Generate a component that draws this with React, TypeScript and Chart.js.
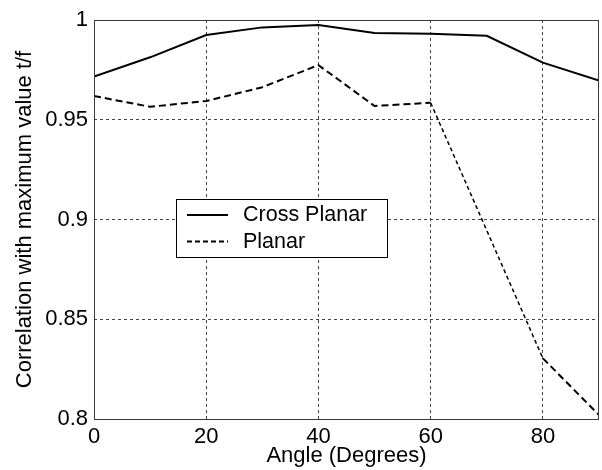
import React, { useEffect, useRef } from "react";
import { Chart, registerables } from "chart.js";

Chart.register(...registerables);

const angles = [0, 10, 20, 30, 40, 50, 60, 70, 80, 90];
const crossPlanar = [0.9716, 0.9813, 0.9925, 0.9963, 0.9975, 0.9935, 0.9931, 0.9921, 0.9786, 0.9696];
const planar = [0.9619, 0.9565, 0.9594, 0.9663, 0.9774, 0.9569, 0.9585, 0.8945, 0.8304, 0.802];
const seriesLabels = ["Cross Planar", "Planar"];
const xTickValues = [0, 20, 40, 60, 80];
const yTickValues = [0.8, 0.85, 0.9, 0.95, 1];
const yTickLabels = ["0.8", "0.85", "0.9", "0.95", "1"];
const xTitle = "Angle (Degrees)";
const yTitle = "Correlation with maximum value t/f";

const FONT = "'Liberation Sans', Arial, sans-serif";

const framePlugin = {
  id: "frameAndLegend",
  afterDatasetsDraw(chart: any) {
    const { ctx, chartArea: a } = chart;
    ctx.save();
    ctx.setLineDash([]);
    ctx.strokeStyle = "#3a3a3a";
    ctx.lineWidth = 1;
    ctx.strokeRect(a.left + 0.5, a.top + 0.5, a.right - a.left - 1, a.bottom - a.top);
    // legend box
    const lx = a.left + 82;
    const ly = a.top + 179;
    const lw = 211;
    const lh = 58;
    ctx.fillStyle = "#ffffff";
    ctx.fillRect(lx, ly, lw, lh);
    ctx.strokeStyle = "#000000";
    ctx.strokeRect(lx + 0.5, ly + 0.5, lw, lh);
    chart.data.datasets.forEach((ds: any, i: number) => {
      const y = ly + 16 + i * 26.5;
      ctx.beginPath();
      ctx.setLineDash(i === 0 ? [] : [5, 3]);
      ctx.lineWidth = i === 0 ? 2 : 1.8;
      ctx.strokeStyle = "#000000";
      ctx.moveTo(lx + 11, y);
      ctx.lineTo(lx + 52, y);
      ctx.stroke();
      ctx.setLineDash([]);
      ctx.fillStyle = "#000000";
      ctx.font = `21.5px ${FONT}`;
      ctx.textBaseline = "middle";
      ctx.textAlign = "left";
      ctx.fillText(ds.label, lx + 67, y + 0.5);
    });
    ctx.restore();
  },
};

export default function App() {
  const canvasRef = useRef<HTMLCanvasElement | null>(null);

  useEffect(() => {
    if (!canvasRef.current) return;
    const chart = new Chart(canvasRef.current, {
      type: "line",
      data: {
        datasets: [
          {
            label: seriesLabels[0],
            data: angles.map((x, i) => ({ x, y: crossPlanar[i] })),
            borderColor: "#000000",
            borderWidth: 2,
            pointRadius: 0,
            tension: 0,
            fill: false,
          },
          {
            label: seriesLabels[1],
            data: angles.map((x, i) => ({ x, y: planar[i] })),
            borderColor: "#000000",
            borderWidth: 2,
            borderDash: [7, 4],
            pointRadius: 0,
            tension: 0,
            fill: false,
            segment: {
              borderWidth: (c: any) => (c.p0.parsed.x >= 60 && c.p1.parsed.x <= 80 ? 1.5 : 2),
              borderDash: (c: any) => (c.p0.parsed.x >= 60 && c.p1.parsed.x <= 80 ? [4, 3] : [7, 4]),
            },
          },
        ],
      },
      options: {
        responsive: false,
        animation: false,
        devicePixelRatio: 1,
        layout: { padding: { top: 20, right: 3, left: 0, bottom: 0 } },
        plugins: { legend: { display: false }, tooltip: { enabled: false } },
        scales: {
          x: {
            type: "linear",
            min: 0,
            max: 90,
            afterBuildTicks: (s: any) => {
              s.ticks = xTickValues.map((v) => ({ value: v }));
            },
            afterFit: (s: any) => {
              s.height = 51;
            },
            ticks: {
              color: "#000000",
              font: { family: FONT, size: 22 },
              padding: 5,
              maxRotation: 0,
              autoSkip: false,
              callback: (v: any) => String(v),
            },
            grid: { color: "#444444", lineWidth: 1, drawTicks: false },
            border: { display: false, dash: [3, 3] },
            title: {
              display: true,
              text: xTitle,
              color: "#000000",
              font: { family: FONT, size: 22 },
              padding: { top: 0, bottom: 1 },
            },
          },
          y: {
            type: "linear",
            min: 0.8,
            max: 1,
            afterBuildTicks: (s: any) => {
              s.ticks = yTickValues.map((v) => ({ value: v }));
            },
            afterFit: (s: any) => {
              s.width = 94;
            },
            ticks: {
              color: "#000000",
              font: { family: FONT, size: 22 },
              padding: 6,
              autoSkip: false,
              callback: (v: any) => {
                const idx = yTickValues.findIndex((t) => Math.abs(t - Number(v)) < 1e-9);
                return idx >= 0 ? yTickLabels[idx] : "";
              },
            },
            grid: { color: "#444444", lineWidth: 1, drawTicks: false },
            border: { display: false, dash: [3, 3] },
            title: {
              display: true,
              text: yTitle,
              color: "#000000",
              font: { family: FONT, size: 22 },
              padding: { top: 12, bottom: 0 },
            },
          },
        },
      },
      plugins: [framePlugin],
    });
    return () => chart.destroy();
  }, []);

  return (
    <div style={{ position: "fixed", left: 0, top: 0, width: 602, height: 470, background: "#ffffff" }}>
      <canvas ref={canvasRef} width={602} height={470} style={{ display: "block" }} />
    </div>
  );
}
